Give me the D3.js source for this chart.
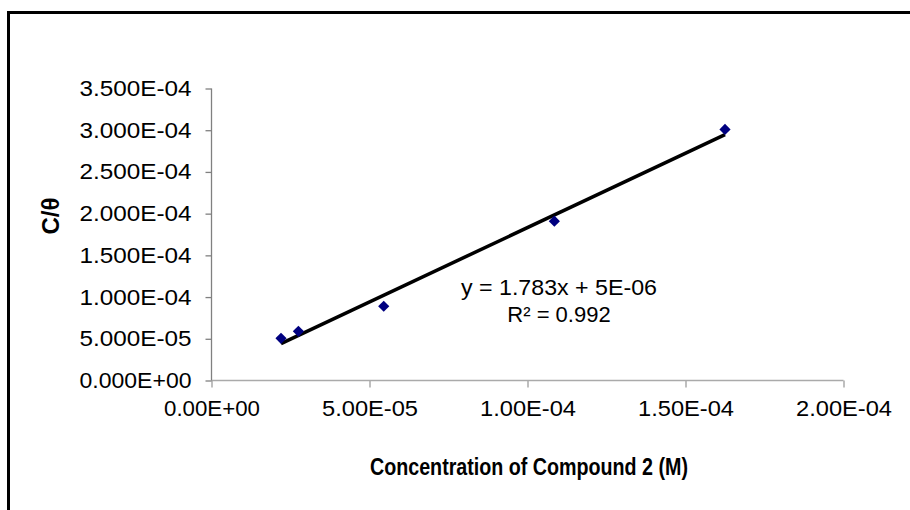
<!DOCTYPE html>
<html><head><meta charset="utf-8">
<script src="https://cdn.jsdelivr.net/npm/d3@7"></script>
<style>body{margin:0;background:#fff}svg{display:block}</style>
</head><body>
<svg id="c" width="910" height="510"></svg>
<script>
const concentrations = [2.2e-5, 2.75e-5, 5.45e-5, 1.085e-4, 1.625e-4];
const cOverTheta = [5.05e-5, 5.9e-5, 8.9e-5, 1.91e-4, 3.01e-4];
const trendSlope = 1.783;
const trendIntercept = 5e-6;
const xTicks = [0, 5e-5, 1e-4, 1.5e-4, 2e-4];
const yTicks = [0, 5e-5, 1e-4, 1.5e-4, 2e-4, 2.5e-4, 3e-4, 3.5e-4];
const xTickLabels = ["0.00E+00","5.00E-05","1.00E-04","1.50E-04","2.00E-04"];
const yTickLabels = ["0.000E+00","5.000E-05","1.000E-04","1.500E-04","2.000E-04","2.500E-04","3.000E-04","3.500E-04"];
const eqLines = ["y = 1.783x + 5E-06", "R\u00B2 = 0.992"];

const svg = d3.select("#c");
const font = "'Liberation Sans', Arial, sans-serif";
svg.append("rect").attr("x",8.5).attr("y",12.5).attr("width",960).attr("height",600)
  .attr("fill","none").attr("stroke","#000").attr("stroke-width",3);

const x = d3.scaleLinear().domain([0,2e-4]).range([211.5,843.5]);
const y = d3.scaleLinear().domain([0,3.5e-4]).range([380.5,88.5]);

// x axis
const xa = svg.append("g").attr("transform","translate(0,380.5)")
  .call(d3.axisBottom(x).tickValues(xTicks).tickSize(7).tickPadding(10)
  .tickFormat((d,i)=>xTickLabels[i]));
xa.selectAll("path,line").attr("stroke","#aaaaaa").attr("stroke-width",1.5);
xa.select(".domain").attr("d","M211.5,0H843.5");
xa.selectAll("text").attr("font-family",font).attr("font-size",22).attr("fill","#000")
  .attr("dy","0.85em").attr("textLength",96).attr("lengthAdjust","spacingAndGlyphs");

// y axis
const ya = svg.append("g").attr("transform","translate(211.5,0)")
  .call(d3.axisLeft(y).tickValues(yTicks).tickSize(6).tickPadding(14)
  .tickFormat((d,i)=>yTickLabels[i]));
ya.selectAll("path,line").attr("stroke","#808080").attr("stroke-width",1.3);
ya.select(".domain").attr("d","M0,380.5V88.5");
ya.selectAll("text").attr("font-family",font).attr("font-size",22).attr("fill","#000")
  .attr("textLength",112).attr("lengthAdjust","spacingAndGlyphs");

// trendline
const xmin = d3.min(concentrations), xmax = d3.max(concentrations);
svg.append("line")
  .attr("x1",x(xmin)).attr("y1",y(trendSlope*xmin+trendIntercept))
  .attr("x2",x(xmax)).attr("y2",y(trendSlope*xmax+trendIntercept))
  .attr("stroke","#000").attr("stroke-width",3.5);

// points
const sym = d3.symbol().type(d3.symbolDiamond2).size(80);
svg.selectAll("path.pt").data(concentrations).join("path").attr("class","pt")
  .attr("d", sym)
  .attr("transform",(d,i)=>`translate(${x(d)},${y(cOverTheta[i])})`)
  .attr("fill","#000080");

// equation
svg.append("text").attr("x",559).attr("y",295).attr("text-anchor","middle")
  .attr("font-family",font).attr("font-size",22).attr("textLength",196).attr("lengthAdjust","spacingAndGlyphs").text(eqLines[0]);
svg.append("text").attr("x",559).attr("y",322).attr("text-anchor","middle")
  .attr("font-family",font).attr("font-size",22).text(eqLines[1]);

// axis titles
svg.append("text").attr("x",529).attr("y",475).attr("text-anchor","middle")
  .attr("font-family","'Liberation Sans Narrow', 'Liberation Sans', Arial, sans-serif")
  .attr("font-weight","bold").attr("font-size",23).attr("textLength",318).attr("lengthAdjust","spacingAndGlyphs")
  .text("Concentration of Compound 2 (M)");
svg.append("text").attr("transform","translate(59,216) rotate(-90)").attr("text-anchor","middle")
  .attr("font-family",font).attr("font-weight","bold").attr("font-size",24).text("C/\u03B8");
</script>
</body></html>
